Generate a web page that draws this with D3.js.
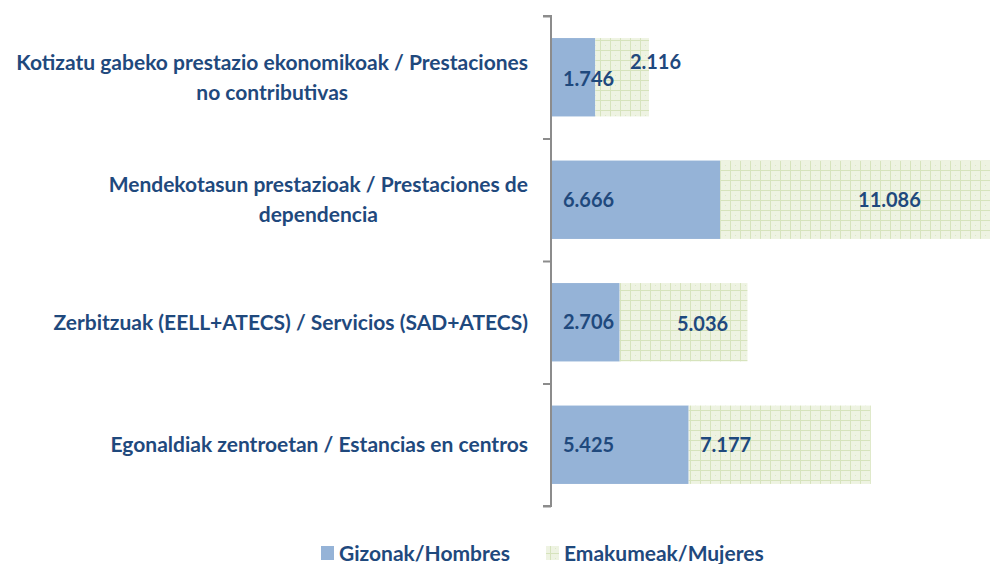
<!DOCTYPE html>
<html>
<head>
<meta charset="utf-8">
<script src="https://cdn.jsdelivr.net/npm/d3@7"></script>
<style>
  html, body { margin: 0; padding: 0; background: #fff; }
  svg { display: block; }
  text { font-family: Lato, "Open Sans", sans-serif; font-weight: 700; fill: #1f497d; }
</style>
</head>
<body>
<svg id="chart" width="990" height="564"></svg>
<script>
// ---- Data ----
const categories = [
  ["Kotizatu gabeko prestazio ekonomikoak / Prestaciones", "no contributivas"],
  ["Mendekotasun prestazioak / Prestaciones de", "dependencia"],
  ["Zerbitzuak (EELL+ATECS) / Servicios (SAD+ATECS)"],
  ["Egonaldiak zentroetan / Estancias en centros"]
];
const hombres = [1746, 6666, 2706, 5425];
const mujeres = [2116, 11086, 5036, 7177];
const seriesNames = ["Gizonak/Hombres", "Emakumeak/Mujeres"];

// ---- Layout / style ----
const W = 990, H = 564;
const axisX = 551, plotTop = 16, plotBottom = 506;
const colorH = "#95b3d7";
const fmt = v => d3.format(",")(v).replace(/,/g, ".");
// label placement along the value scale, and vertical nudge
const mujLabelAt = [3110, 12100, 4965, 5870];
const mujLabelDy = [-15, 0, 2, 0];

const svg = d3.select("#chart");
const defs = svg.append("defs");
const pat = defs.append("pattern").attr("id", "grid").attr("patternUnits", "userSpaceOnUse")
  .attr("width", 10).attr("height", 10);
pat.append("rect").attr("width", 10).attr("height", 10).attr("fill", "#eef3e2");
pat.append("rect").attr("x", 0).attr("y", 0).attr("width", 10).attr("height", 1).attr("fill", "#d6e3bc");
pat.append("rect").attr("x", 0).attr("y", 0).attr("width", 1).attr("height", 10).attr("fill", "#d6e3bc");
pat.append("rect").attr("x", 5).attr("y", 5).attr("width", 1).attr("height", 1).attr("fill", "#dde8c8");

const x = d3.scaleLinear().domain([0, 17300]).range([axisX, W]);
const y = d3.scaleBand().domain(d3.range(categories.length)).range([plotTop, plotBottom]).paddingInner(0.36).paddingOuter(0.18);

const g = svg.append("g");

// bars
g.selectAll(".bh").data(hombres).join("rect")
  .attr("x", x(0)).attr("y", (d, i) => y(i))
  .attr("width", d => x(d) - x(0)).attr("height", y.bandwidth())
  .attr("fill", colorH);
g.selectAll(".bm").data(mujeres).join("rect")
  .attr("x", (d, i) => x(hombres[i])).attr("y", (d, i) => y(i))
  .attr("width", d => x(d) - x(0)).attr("height", y.bandwidth())
  .attr("fill", "url(#grid)");

// axis
const yAxisScale = d3.scaleLinear().domain([0, categories.length]).range([plotTop, plotBottom]);
const axis = d3.axisLeft(yAxisScale).ticks(categories.length).tickSize(8).tickFormat("");
const ax = svg.append("g").attr("transform", `translate(${axisX},0)`).call(axis);
ax.select(".domain").attr("stroke", "#8c8c8c").attr("stroke-width", 2).attr("d", `M-8,${plotTop}H0V${plotBottom}H-8`);
ax.selectAll(".tick line").attr("stroke", "#8c8c8c").attr("stroke-width", 2);

// value labels
svg.selectAll(".lh").data(hombres).join("text")
  .attr("x", x(0) + 12).attr("y", (d, i) => y(i) + y.bandwidth() / 2 + (i === 0 ? 2 : 0))
  .attr("dy", "0.36em").attr("font-size", 20).text(d => fmt(d));
svg.selectAll(".lm").data(mujeres).join("text")
  .attr("x", (d, i) => x(mujLabelAt[i])).attr("y", (d, i) => y(i) + y.bandwidth() / 2 + mujLabelDy[i])
  .attr("dy", "0.36em").attr("font-size", 20).text(d => fmt(d));

// category labels
const labelRight = 528;
categories.forEach((lines, i) => {
  const cy = y(i) + y.bandwidth() / 2;
  const lh = 30;
  const y0 = cy - (lines.length - 1) * lh / 2;
  const t1 = svg.append("text").attr("x", labelRight).attr("y", y0).attr("dy", "0.36em")
    .attr("text-anchor", "end").attr("font-size", 21).text(lines[0]);
  if (lines.length > 1) {
    const w = t1.node().getComputedTextLength();
    svg.append("text").attr("x", labelRight - w / 2).attr("y", y0 + lh).attr("dy", "0.36em")
      .attr("text-anchor", "middle").attr("font-size", 21).text(lines[1]);
  }
});

// legend
const legend = svg.append("g").attr("transform", "translate(0,553)");
const legX = [321, 546];
seriesNames.forEach((name, i) => {
  legend.append("rect").attr("x", legX[i]).attr("y", -7).attr("width", 13).attr("height", 14)
    .attr("fill", i === 0 ? colorH : "url(#grid)");
  legend.append("text").attr("x", legX[i] + 18).attr("y", 0).attr("dy", "0.36em")
    .attr("font-size", 21).text(name);
});
</script>
</body>
</html>
